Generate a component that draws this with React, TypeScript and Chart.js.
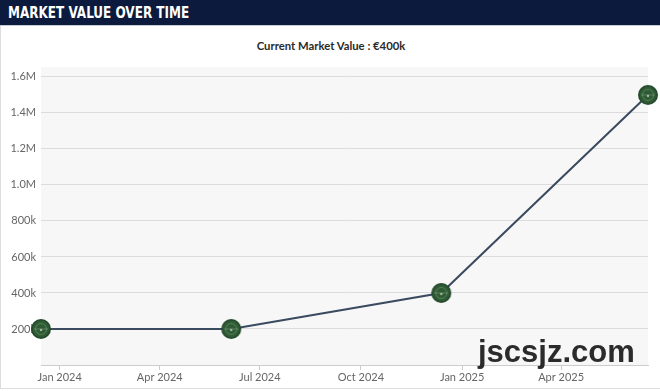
import React, { useEffect, useRef } from "react";
import { Chart, registerables } from "chart.js";

Chart.register(...registerables);

const pointDates = ["2023-12-15", "2024-06-05", "2024-12-13", "2025-06-19"];
const marketValues = [200000, 200000, 400000, 1500000];
const xTickDates = ["2024-01-01", "2024-04-01", "2024-07-01", "2024-10-01", "2025-01-01", "2025-04-01"];
const xTickLabels = ["Jan 2024", "Apr 2024", "Jul 2024", "Oct 2024", "Jan 2025", "Apr 2025"];
const yTickValues = [200000, 400000, 600000, 800000, 1000000, 1200000, 1400000, 1600000];
const yTickLabels = ["200k", "400k", "600k", "800k", "1.0M", "1.2M", "1.4M", "1.6M"];
const headerTitle = "MARKET VALUE OVER TIME";
const subTitle = "Current Market Value : €400k";
const watermark = "jscsjz.com";

const ms = (d: string) => new Date(d + "T00:00:00Z").getTime();

function makeMarker(): HTMLCanvasElement {
  const c = document.createElement("canvas");
  c.width = 22;
  c.height = 22;
  const g = c.getContext("2d")!;
  g.beginPath();
  g.arc(11, 11, 10, 0, Math.PI * 2);
  g.fillStyle = "#23472a";
  g.fill();
  g.beginPath();
  g.arc(11, 11, 8.5, 0, Math.PI * 2);
  g.fillStyle = "#2f5b34";
  g.fill();
  g.beginPath();
  g.arc(11, 11, 5.5, 0, Math.PI * 2);
  g.strokeStyle = "rgba(200,230,200,0.25)";
  g.lineWidth = 1;
  g.stroke();
  g.beginPath();
  g.moveTo(4, 11);
  g.lineTo(18, 11);
  g.strokeStyle = "rgba(220,240,220,0.25)";
  g.stroke();
  g.beginPath();
  g.arc(11, 12, 1.2, 0, Math.PI * 2);
  g.fillStyle = "rgba(235,245,235,0.6)";
  g.fill();
  return c;
}

const bgPlugin = {
  id: "plotBg",
  beforeDraw(chart: any) {
    const { ctx, chartArea } = chart;
    if (!chartArea) return;
    ctx.save();
    ctx.fillStyle = "#f7f7f7";
    ctx.fillRect(chartArea.left, chartArea.top, chartArea.right - chartArea.left, chartArea.bottom - chartArea.top);
    ctx.restore();
  },
};

export default function App() {
  const ref = useRef<HTMLCanvasElement | null>(null);

  useEffect(() => {
    if (!ref.current) return;
    const marker = makeMarker();
    const data = pointDates.map((d, i) => ({ x: ms(d), y: marketValues[i] }));
    const chart = new Chart(ref.current, {
      type: "line",
      data: {
        datasets: [
          {
            data,
            borderColor: "#3a4a5f",
            borderWidth: 2,
            tension: 0,
            pointStyle: marker as any,
            pointRadius: 10,
            pointHoverRadius: 10,
            clip: false as any,
          },
        ],
      },
      options: {
        animation: false,
        responsive: false,
        maintainAspectRatio: false,
        layout: { padding: { top: 67, right: 8, left: 0, bottom: 0 } },
        plugins: { legend: { display: false }, tooltip: { enabled: false }, title: { display: false } },
        scales: {
          x: {
            type: "linear",
            min: ms(pointDates[0]),
            max: ms(pointDates[pointDates.length - 1]),
            afterBuildTicks(scale: any) {
              scale.ticks = xTickDates.map((d) => ({ value: ms(d) }));
            },
            afterFit(scale: any) {
              scale.height = 26;
            },
            ticks: {
              autoSkip: false,
              maxRotation: 0,
              padding: 1,
              color: "#666",
              font: { family: "Lato", size: 11 },
              callback: (_v: any, i: number) => xTickLabels[i],
            },
            grid: { drawOnChartArea: false, drawTicks: true, tickLength: 5, color: "#cccccc" },
            border: { display: true, color: "#cccccc" },
          },
          y: {
            type: "linear",
            min: 0,
            max: 1655000,
            afterBuildTicks(scale: any) {
              scale.ticks = yTickValues.map((v) => ({ value: v }));
            },
            afterFit(scale: any) {
              scale.width = 41;
            },
            ticks: {
              padding: 5,
              color: "#666",
              font: { family: "Lato", size: 11 },
              callback: (_v: any, i: number) => yTickLabels[i],
            },
            grid: { color: "#dcdcdc", drawTicks: false, tickLength: 0 },
            border: { display: false },
          },
        },
      },
      plugins: [bgPlugin],
    });
    return () => chart.destroy();
  }, []);

  return (
    <div style={{ position: "fixed", left: 0, top: 0, width: 660, height: 391, background: "#fff", overflow: "hidden" }}>
      <div style={{ position: "absolute", left: 0, top: 0, width: 660, height: 25, background: "#0b1a3d", borderBottom: "1px solid #c9ccd3" }}>
        <div
          style={{
            position: "absolute",
            left: 8,
            top: 3,
            fontFamily: "'Liberation Sans Narrow', 'DejaVu Sans Condensed', sans-serif",
            fontWeight: 700,
            fontSize: 16.5,
            lineHeight: "20px",
            color: "#fff",
            whiteSpace: "nowrap",
            transform: "scaleX(0.81)",
            transformOrigin: "left center",
          }}
        >
          {headerTitle}
        </div>
      </div>
      <div style={{ position: "absolute", left: 0, top: 26, width: 1, height: 362, background: "#dddddd" }} />
      <div style={{ position: "absolute", left: 0, top: 388, width: 660, height: 1, background: "#dddddd" }} />
      <div
        style={{
          position: "absolute",
          left: 0,
          top: 38,
          width: 662,
          textAlign: "center",
          fontFamily: "Lato, sans-serif",
          fontWeight: 700,
          fontSize: 11.3,
          lineHeight: "16px",
          color: "#2a2a2a",
        }}
      >
        {subTitle}
      </div>
      <canvas ref={ref} width={660} height={391} style={{ position: "absolute", left: 0, top: 0, width: 660, height: 391 }} />
      <div
        style={{
          position: "absolute",
          left: 478,
          top: 336,
          fontFamily: "'Liberation Sans', Arial, sans-serif",
          fontWeight: 700,
          fontSize: 31,
          lineHeight: "31px",
          color: "#2b2b2b",
          whiteSpace: "nowrap",
        }}
      >
        {watermark}
      </div>
    </div>
  );
}
